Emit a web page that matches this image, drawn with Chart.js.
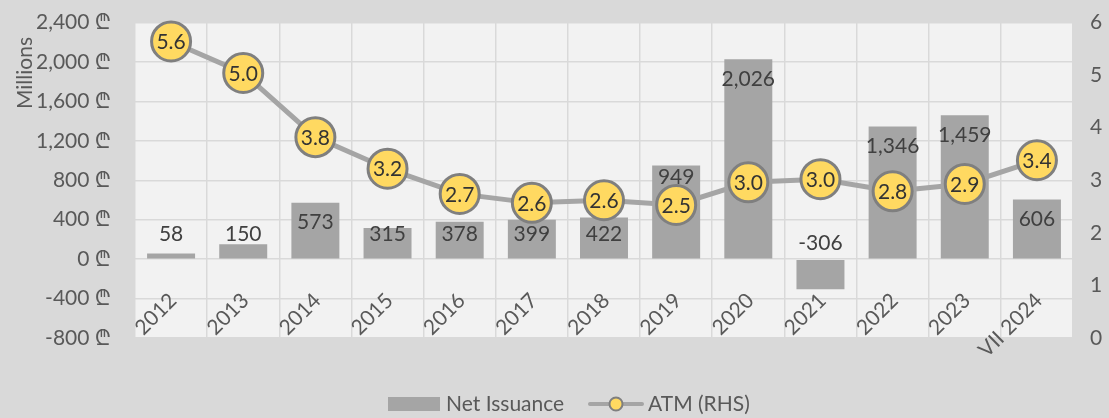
<!DOCTYPE html>
<html>
<head>
<meta charset="utf-8">
<script src="https://cdn.jsdelivr.net/npm/chart.js@4"></script>
<style>
  html, body { margin: 0; padding: 0; background: #d9d9d9; }
  canvas { display: block; }
</style>
</head>
<body>
<canvas id="c" width="1109" height="418"></canvas>
<script>
const categories = ['2012','2013','2014','2015','2016','2017','2018','2019','2020','2021','2022','2023','VII 2024'];
const netIssuance = [58, 150, 573, 315, 378, 399, 422, 949, 2026, -306, 1346, 1459, 606];
const atm = [5.64, 5.04, 3.82, 3.22, 2.74, 2.57, 2.62, 2.53, 2.96, 3.02, 2.79, 2.93, 3.38];
const leftTicks = [-800, -400, 0, 400, 800, 1200, 1600, 2000, 2400];
const rightTicks = [0, 1, 2, 3, 4, 5, 6];

const FONT = 'Lato, "Noto Sans", "DejaVu Sans", sans-serif';
const FS = 21;
const TICK_COLOR = '#595959';
const LABEL_COLOR = '#404040';
const BAR_COLOR = '#a5a5a5';
const LINE_COLOR = '#a5a5a5';
const POINT_FILL = '#ffd961';
const POINT_BORDER = '#7f7f7f';
const GRID = '#d9d9d9';
const TARGET = { left: 135, top: 18, right: 1073, bottom: 338 };

const fmt = v => v.toLocaleString('en-US');

const decor = {
  id: 'decor',
  beforeDraw(chart) {
    const { ctx, chartArea: a } = chart;
    ctx.save();
    ctx.fillStyle = '#d9d9d9';
    ctx.fillRect(0, 0, chart.width, chart.height);
    ctx.fillStyle = '#f2f2f2';
    ctx.fillRect(a.left, a.top, a.right - a.left, a.bottom - a.top);
    ctx.restore();
  },
  afterDatasetDraw(chart, args) {
    if (args.index !== 1) return;
    const { ctx } = chart;
    const y = chart.scales.y;
    const zero = y.getPixelForValue(0);
    const meta = chart.getDatasetMeta(1);
    const pts = chart.getDatasetMeta(0).data;
    ctx.save();
    ctx.font = FS + 'px ' + FONT;
    ctx.fillStyle = LABEL_COLOR;
    ctx.textAlign = 'center';
    ctx.textBaseline = 'middle';
    meta.data.forEach((bar, i) => {
      const v = netIssuance[i];
      let ly;
      if (v < 0) ly = zero - 16;
      else ly = Math.min(bar.y + 20, zero - 25);
      const my = pts[i] ? pts[i].y : null;
      if (my !== null && ly < my && my - ly < 34) ly = my - 28;
      ctx.fillText(fmt(v), bar.x, ly);
    });
    ctx.restore();
  },
  afterDatasetsDraw(chart) {
    const { ctx } = chart;
    const meta = chart.getDatasetMeta(0);
    ctx.save();
    ctx.font = FS + 'px ' + FONT;
    ctx.fillStyle = '#333333';
    ctx.textAlign = 'center';
    ctx.textBaseline = 'middle';
    meta.data.forEach((pt, i) => {
      ctx.fillText(atm[i].toFixed(1), pt.x, pt.y + 1);
    });
    // x labels, rotated, inside plot area
    const xs = chart.scales.x;
    ctx.fillStyle = TICK_COLOR;
    ctx.textAlign = 'right';
    ctx.textBaseline = 'middle';
    categories.forEach((c, i) => {
      const px = xs.getPixelForValue(i);
      ctx.save();
      ctx.translate(px + 2, 297);
      ctx.rotate(-Math.PI / 4);
      ctx.fillText(c, 0, 0);
      ctx.restore();
    });
    // Millions title
    ctx.save();
    ctx.translate(25, 73);
    ctx.rotate(-Math.PI / 2);
    ctx.textAlign = 'center';
    ctx.textBaseline = 'middle';
    ctx.fillStyle = TICK_COLOR;
    ctx.fillText('Millions', 0, 0);
    ctx.restore();
    // legend
    ctx.fillStyle = BAR_COLOR;
    ctx.fillRect(388, 397, 52, 14);
    ctx.fillStyle = TICK_COLOR;
    ctx.textAlign = 'left';
    ctx.fillText('Net Issuance', 446, 404);
    ctx.strokeStyle = LINE_COLOR;
    ctx.lineWidth = 4;
    ctx.lineCap = 'round';
    ctx.beginPath();
    ctx.moveTo(590, 404);
    ctx.lineTo(642, 404);
    ctx.stroke();
    ctx.beginPath();
    ctx.arc(616, 404, 6.5, 0, Math.PI * 2);
    ctx.fillStyle = POINT_FILL;
    ctx.fill();
    ctx.lineWidth = 2;
    ctx.strokeStyle = POINT_BORDER;
    ctx.stroke();
    ctx.fillStyle = TICK_COLOR;
    ctx.fillText('ATM (RHS)', 648, 404);
    ctx.restore();
  }
};

function noScalePad(s) { s.paddingTop = 0; s.paddingBottom = 0; s.paddingLeft = 0; s.paddingRight = 0; }

const chart = new Chart(document.getElementById('c'), {
  data: {
    labels: categories,
    datasets: [
      {
        type: 'line',
        label: 'ATM (RHS)',
        data: atm,
        yAxisID: 'y2',
        order: 0,
        borderColor: LINE_COLOR,
        borderWidth: 5,
        pointRadius: 19.5,
        pointBorderWidth: 3,
        pointBackgroundColor: POINT_FILL,
        pointBorderColor: POINT_BORDER,
        tension: 0,
        clip: false
      },
      {
        type: 'bar',
        label: 'Net Issuance',
        data: netIssuance,
        yAxisID: 'y',
        order: 1,
        backgroundColor: BAR_COLOR,
        barPercentage: 0.665,
        categoryPercentage: 1
      }
    ]
  },
  options: {
    responsive: false,
    animation: false,
    layout: { padding: { top: 18, bottom: 80, left: 0, right: 0 } },
    plugins: { legend: { display: false }, tooltip: { enabled: false } },
    scales: {
      x: {
        offset: true,
        grid: { color: GRID, lineWidth: 1.5, drawTicks: false, offset: true },
        border: { display: false },
        ticks: { display: false },
        afterFit(s) { s.height = 0; noScalePad(s); }
      },
      y: {
        position: 'left',
        min: -800, max: 2400,
        afterBuildTicks(s) { s.ticks = leftTicks.map(v => ({ value: v })); },
        grid: { color: GRID, lineWidth: 1.5, drawTicks: false },
        border: { display: false },
        ticks: {
          color: TICK_COLOR,
          font: { family: FONT, size: FS },
          padding: 24,
          callback: v => fmt(v) + ' ₾'
        },
        afterFit(s) { s.width = 135; noScalePad(s); }
      },
      y2: {
        position: 'right',
        min: 0, max: 6,
        afterBuildTicks(s) { s.ticks = rightTicks.map(v => ({ value: v })); },
        grid: { display: false, drawTicks: false },
        border: { display: false },
        ticks: {
          color: TICK_COLOR,
          font: { family: FONT, size: FS },
          padding: 17
        },
        afterFit(s) { s.width = 36; noScalePad(s); }
      }
    }
  },
  plugins: [decor]
});

// nudge layout padding so the plot area lands where the reference has it
for (let k = 0; k < 3; k++) {
  const a = chart.chartArea;
  const p = chart.options.layout.padding;
  const dt = TARGET.top - a.top, dl = TARGET.left - a.left;
  const dr = a.right - TARGET.right, db = a.bottom - TARGET.bottom;
  if (!dt && !dl && !dr && !db) break;
  chart.options.layout.padding = {
    top: p.top + dt, left: p.left + dl, right: p.right + dr, bottom: p.bottom + db
  };
  chart.update();
}
</script>
</body>
</html>
